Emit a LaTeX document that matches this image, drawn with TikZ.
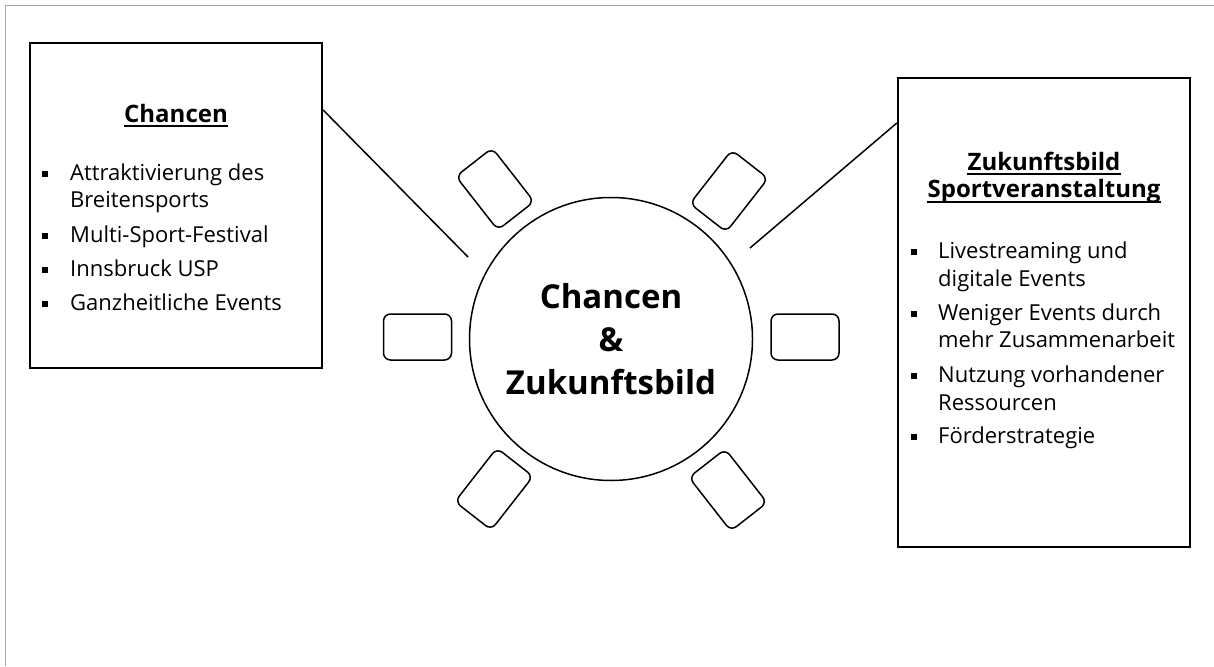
\documentclass[tikz,border=0pt]{standalone}
\usepackage{fontspec}
\setmainfont{Open Sans}
\begin{document}
\begin{tikzpicture}[x=1pt,y=-1pt,
  box/.style={draw=black, line width=2.3pt, minimum width=292pt, inner sep=0pt},
  chair/.style={draw=black, line width=1.5pt, rounded corners=7pt, minimum width=68pt, minimum height=46pt, inner sep=0pt},
  item/.style={anchor=base west, inner sep=0pt, font=\fontsize{22}{26}\selectfont},
  bul/.style={fill=black, minimum size=6pt, inner sep=0pt},
  ttl/.style={anchor=base, inner sep=0pt, font=\fontsize{24}{27}\selectfont\bfseries},
  uline/.style={line width=1.4pt},
  conn/.style={line width=1.5pt}]
\useasboundingbox (0,0) rectangle (1214,666);
\draw[gray!70, line width=1pt] (5.5,666) -- (5.5,6) -- (1214,6);

% boxes
\node[box, minimum height=325pt] (lbox) at (176,205.5) {};
\node[box, minimum height=469pt] (rbox) at (1044,312.5) {};

% table
\node[circle, draw, line width=1.5pt, minimum size=283pt, align=center,
      font=\fontsize{33}{43}\selectfont\bfseries] (table) at (611,339) {Chancen\\\&\\Zukunftsbild};

% chairs
\node[chair] (c1) at (417.5,337) {};
\node[chair] (c2) at (805,337) {};
\node[chair, rotate=128] (c3) at (495,189) {};
\node[chair, rotate=52] (c4) at (729,191) {};
\node[chair, rotate=52] (c5) at (494,489) {};
\node[chair, rotate=-52] (c6) at (728,490) {};

% connectors
\coordinate (lend) at (468,257);
\coordinate (rend) at (750,248);
\draw[conn] (lbox.east |- 0,110) -- (lend);
\draw[conn] (rbox.west |- 0,123) -- (rend);

% left box text
\node[ttl] (lt) at (176,122) {Chancen};
\draw[uline] ([yshift=-4pt]lt.base west) -- ([yshift=-4pt]lt.base east);
\node[bul] (lb1) at (45,174) {};
\node[item] (l1a) at (70,180) {Attraktivierung des};
\node[item] (l1b) at (70,207) {Breitensports};
\node[bul] (lb2) at (45,236) {};
\node[item] (l2) at (70,242) {Multi-Sport-Festival};
\node[bul] (lb3) at (45,270) {};
\node[item] (l3) at (70,276) {Innsbruck USP};
\node[bul] (lb4) at (45,304) {};
\node[item] (l4) at (70,310) {Ganzheitliche Events};

% right box text
\node[ttl] (rt1) at (1044,170) {Zukunftsbild};
\draw[uline] ([yshift=-4pt]rt1.base west) -- ([yshift=-4pt]rt1.base east);
\node[ttl] (rt2) at (1044,197) {Sportveranstaltung};
\draw[uline] ([yshift=-5pt]rt2.base west) -- ([yshift=-5pt]rt2.base east);
\node[bul] (rb1) at (913.5,252) {};
\node[item] (r1a) at (938,258) {Livestreaming und};
\node[item] (r1b) at (938,286) {digitale Events};
\node[bul] (rb2) at (913.5,314) {};
\node[item] (r2a) at (938,320) {Weniger Events durch};
\node[item] (r2b) at (938,347) {mehr Zusammenarbeit};
\node[bul] (rb3) at (913.5,376) {};
\node[item] (r3a) at (938,382) {Nutzung vorhandener};
\node[item] (r3b) at (938,410) {Ressourcen};
\node[bul] (rb4) at (913.5,437) {};
\node[item] (r4) at (938,443) {Förderstrategie};
\end{tikzpicture}
\end{document}
